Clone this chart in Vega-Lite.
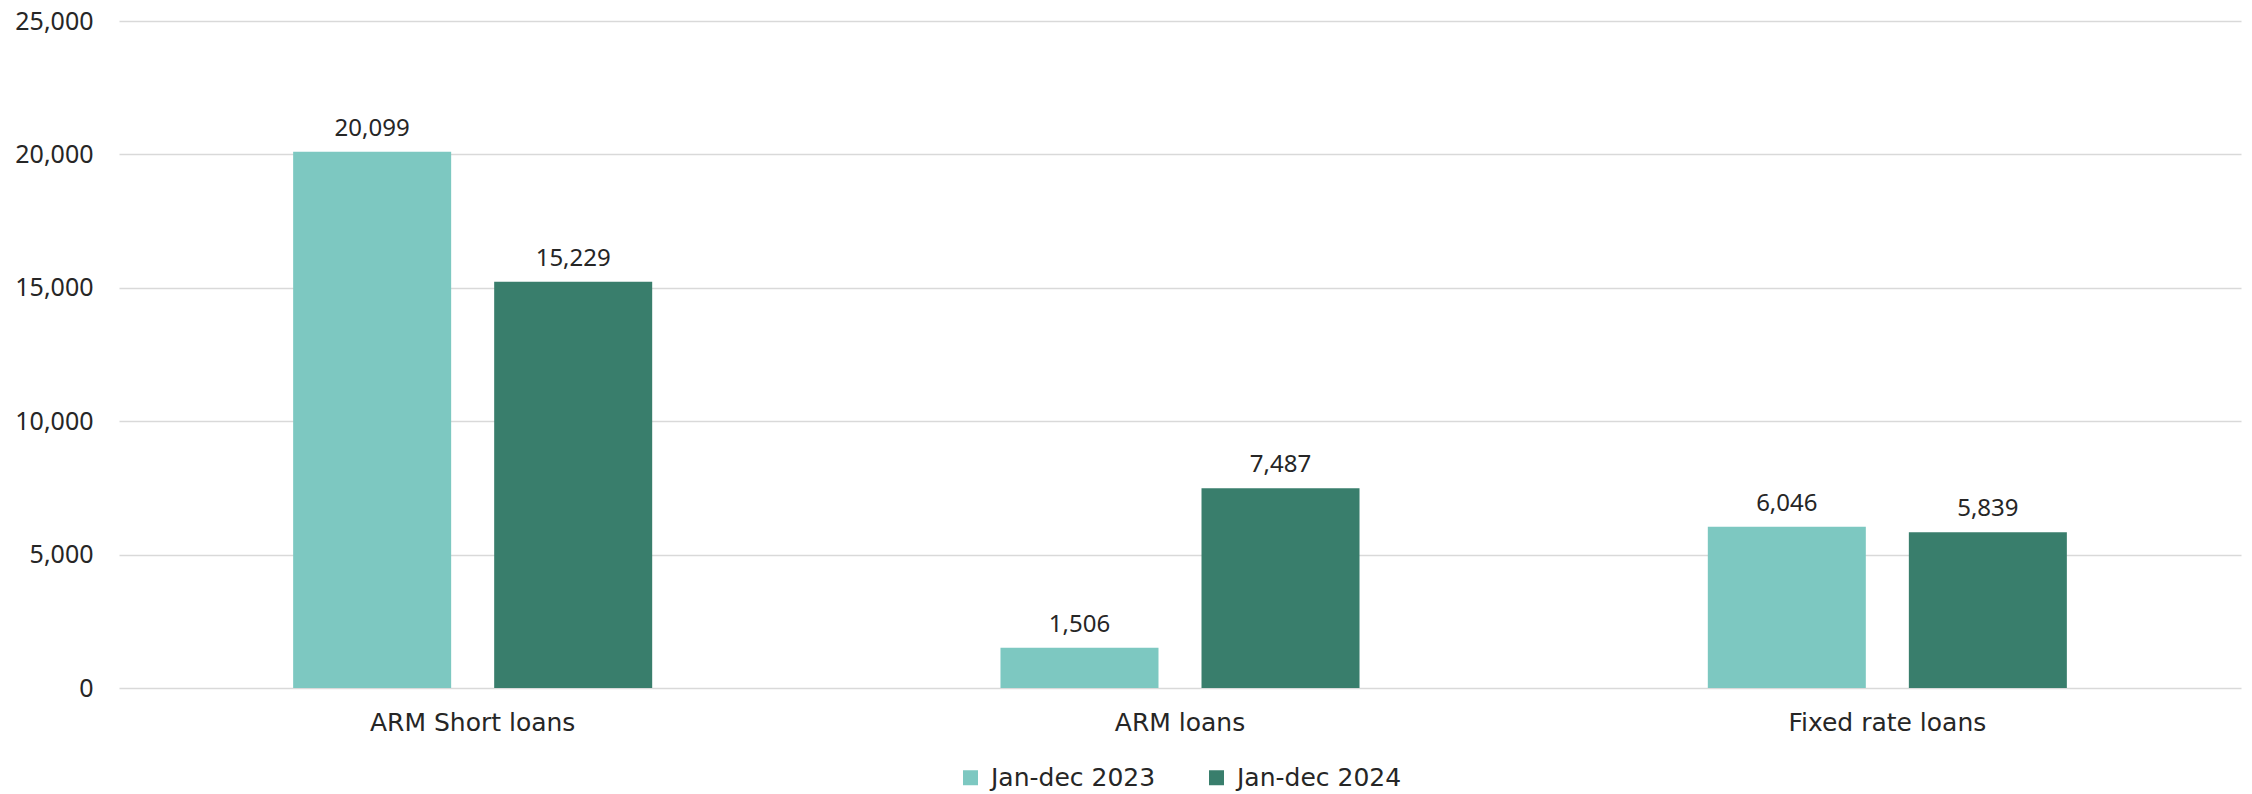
{
  "$schema": "https://vega.github.io/schema/vega-lite/v6.json",
  "width": 2122,
  "height": 667,
  "autosize": {"type": "none"},
  "padding": {"left": 119, "top": 21, "right": 11, "bottom": 106},
  "background": "white",
  "config": {
    "view": {"stroke": null},
    "font": "Noto Sans",
    "axis": {"labelColor": "#262626", "ticks": false, "domain": false, "title": null}
  },
  "data": {
    "values": [
      {"category": "ARM Short loans", "period": "Jan-dec 2023", "value": 20099},
      {"category": "ARM Short loans", "period": "Jan-dec 2024", "value": 15229},
      {"category": "ARM loans", "period": "Jan-dec 2023", "value": 1506},
      {"category": "ARM loans", "period": "Jan-dec 2024", "value": 7487},
      {"category": "Fixed rate loans", "period": "Jan-dec 2023", "value": 6046},
      {"category": "Fixed rate loans", "period": "Jan-dec 2024", "value": 5839}
    ]
  },
  "encoding": {
    "x": {
      "field": "category", "type": "nominal", "sort": null,
      "scale": {"paddingInner": 0.4924, "paddingOuter": 0.2462},
      "axis": {"labelAngle": 0, "labelPadding": 22, "grid": false, "labelFont": "DejaVu Sans", "labelFontSize": 25, "labelLimit": 600}
    },
    "xOffset": {"field": "period", "type": "nominal", "scale": {"paddingInner": 0.214, "paddingOuter": 0}},
    "y": {
      "field": "value", "type": "quantitative",
      "scale": {"domain": [0, 25000], "nice": false},
      "axis": {"values": [0, 5000, 10000, 15000, 20000, 25000], "format": ",d", "labelPadding": 26, "labelFont": "Noto Sans", "labelFontSize": 25, "gridColor": "#D9D9D9", "gridWidth": 1.5}
    }
  },
  "layer": [
    {
      "mark": {"type": "bar"},
      "encoding": {
        "color": {
          "field": "period", "type": "nominal",
          "scale": {"domain": ["Jan-dec 2023", "Jan-dec 2024"], "range": ["#7DC8C1", "#397E6C"]},
          "legend": {
            "orient": "none", "direction": "horizontal", "title": null,
            "legendX": 839, "legendY": 744,
            "symbolType": "square", "symbolSize": 225, "symbolStrokeWidth": 0,
            "labelFontSize": 25, "labelColor": "#262626", "labelFont": "DejaVu Sans", "labelLimit": 400,
            "columnPadding": 48, "labelOffset": 8
          }
        }
      }
    },
    {
      "mark": {"type": "text", "baseline": "alphabetic", "dy": -16, "fontSize": 24, "font": "Noto Sans", "color": "#262626"},
      "encoding": {
        "text": {"field": "value", "type": "quantitative", "format": ",d"}
      }
    }
  ]
}
